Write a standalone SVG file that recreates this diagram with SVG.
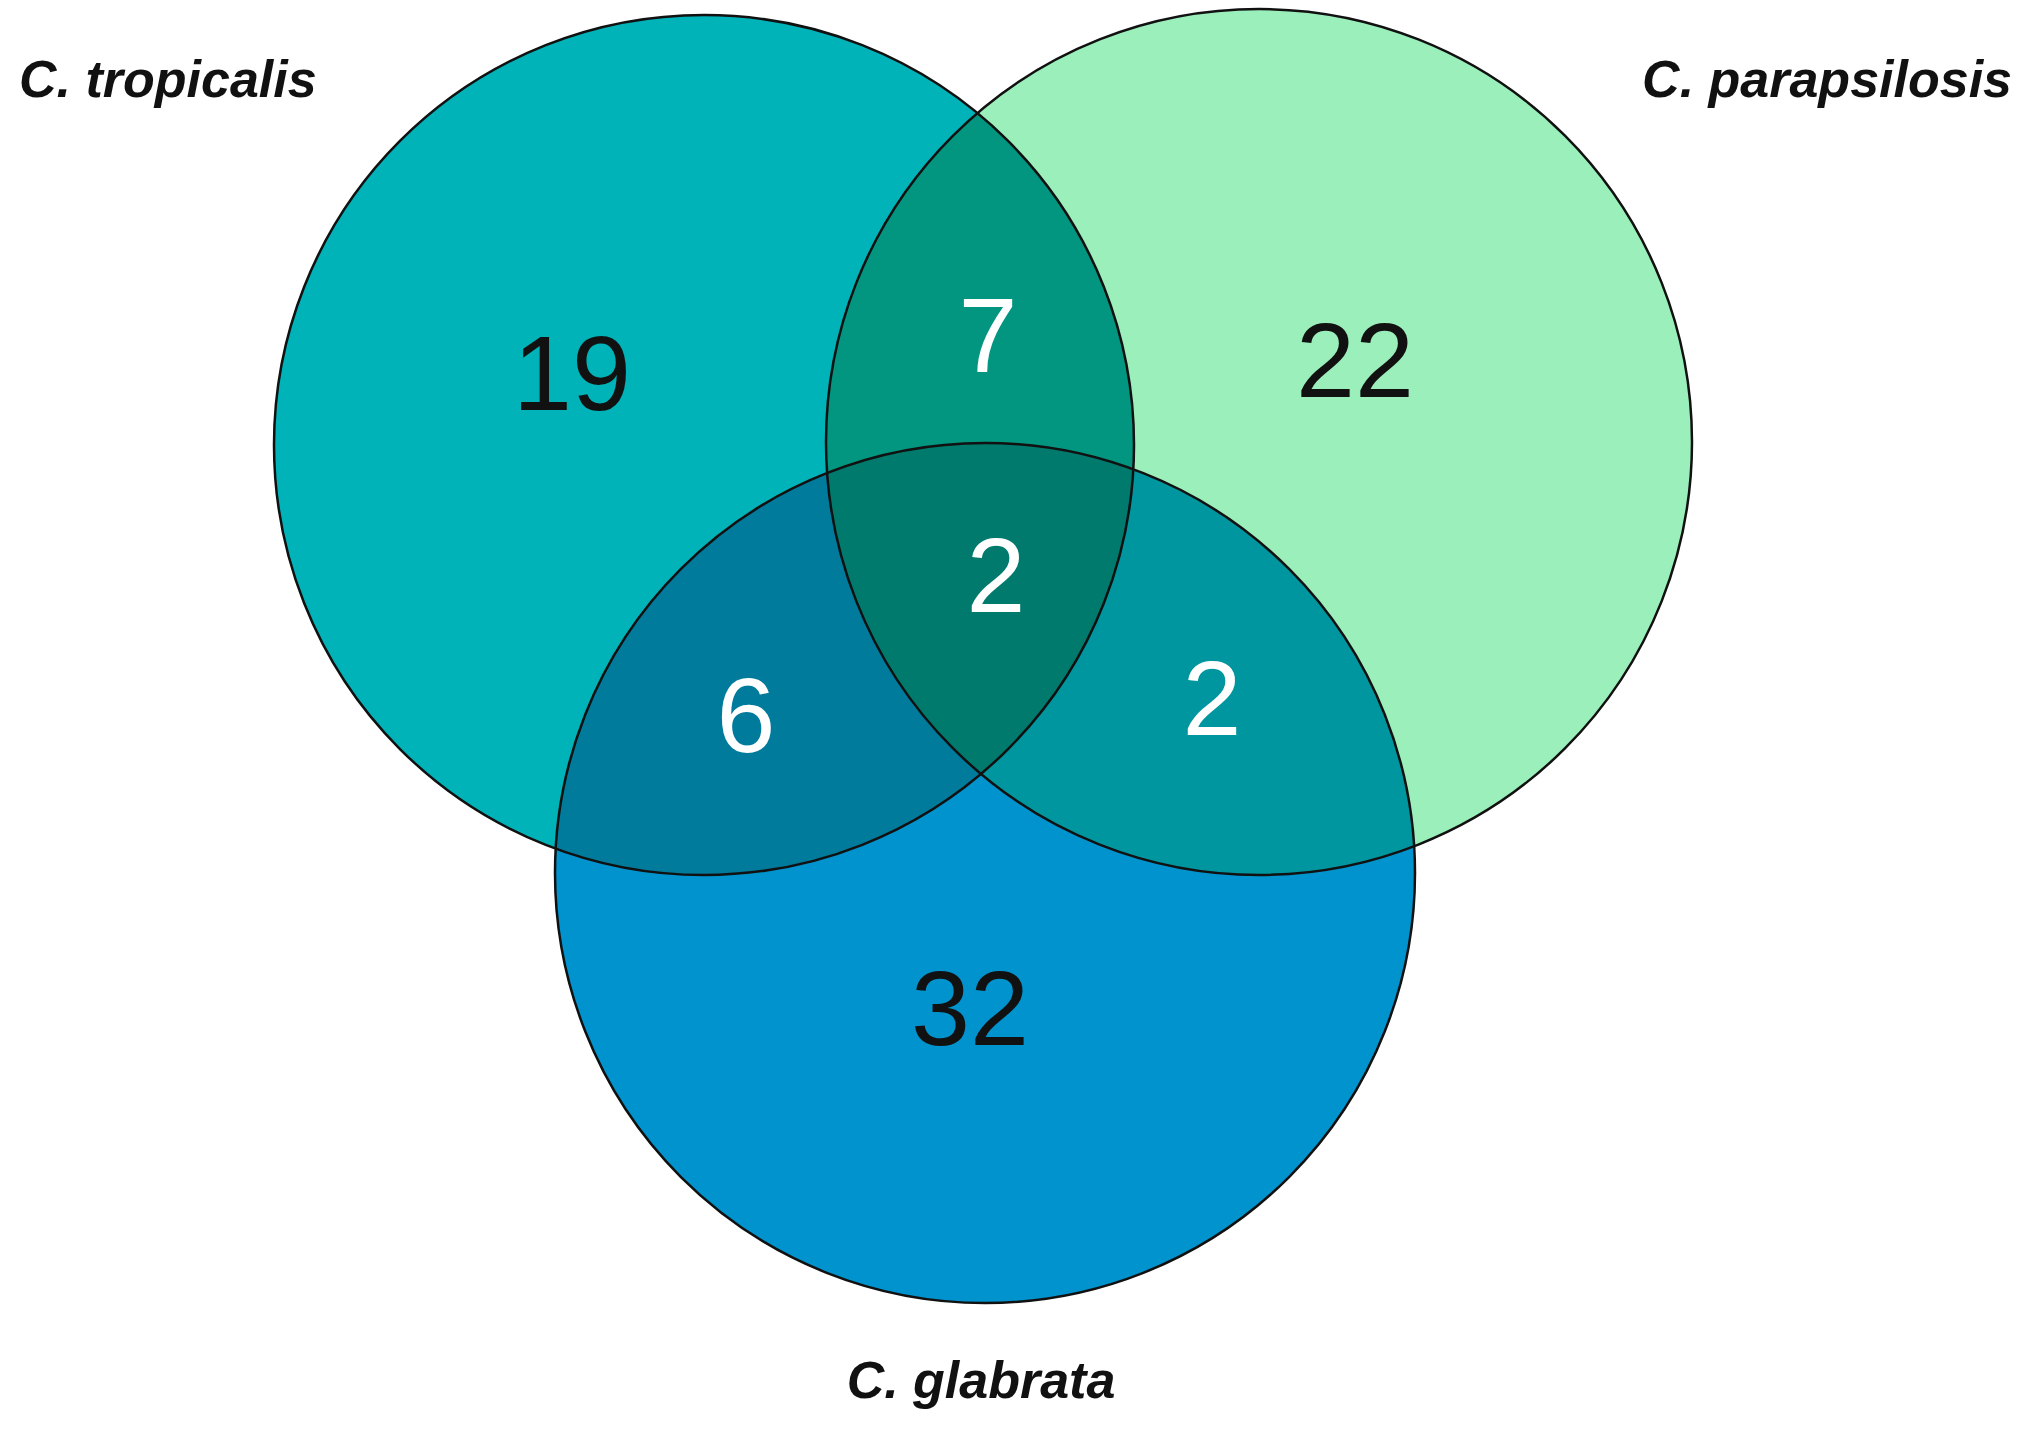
<svg xmlns="http://www.w3.org/2000/svg" width="2033" height="1441" viewBox="0 0 2033 1441">
<style>
.lbl{font-family:"Liberation Sans",Arial,sans-serif;font-weight:bold;font-style:italic;font-size:52px;fill:#111}
.num{font-family:"Liberation Sans",Arial,sans-serif;font-size:106px;text-anchor:middle}
.dk{fill:#111}.wt{fill:#fff}
.edge{fill:none;stroke:#111;stroke-width:2.5}
</style>
<defs>
<clipPath id="cT"><circle cx="704" cy="445" r="430"/></clipPath>
<clipPath id="cP"><circle cx="1259" cy="442" r="433"/></clipPath>
<clipPath id="cG"><circle cx="985" cy="873" r="430"/></clipPath>
</defs>
<rect width="2033" height="1441" fill="#fff"/>
<g id="tropicalis"><circle cx="704" cy="445" r="430" fill="#00B3B8"/></g>
<g id="parapsilosis"><circle cx="1259" cy="442" r="433" fill="#9BEFBB"/></g>
<g id="glabrata"><circle cx="985" cy="873" r="430" fill="#0093CD"/></g>
<g id="overlaps">
<g clip-path="url(#cT)"><circle cx="1259" cy="442" r="433" fill="#02957F"/><circle cx="985" cy="873" r="430" fill="#017B9C"/></g>
<g clip-path="url(#cP)"><circle cx="985" cy="873" r="430" fill="#00969F"/></g>
<g clip-path="url(#cT)"><g clip-path="url(#cP)"><circle cx="985" cy="873" r="430" fill="#007A6D"/></g></g>
</g>
<g id="outlines">
<circle class="edge" cx="704" cy="445" r="430"/>
<circle class="edge" cx="1259" cy="442" r="433"/>
<circle class="edge" cx="985" cy="873" r="430"/>
</g>
<g id="labels">
<text class="lbl" x="19" y="97">C. tropicalis</text>
<text class="lbl" x="2012" y="97" text-anchor="end">C. parapsilosis</text>
<text class="lbl" x="981" y="1398" text-anchor="middle">C. glabrata</text>
<text class="num dk" x="572" y="410">19</text>
<text class="num wt" x="988" y="372">7</text>
<text class="num dk" x="1355" y="397">22</text>
<text class="num wt" x="996" y="612">2</text>
<text class="num wt" x="746" y="752">6</text>
<text class="num wt" x="1212" y="735">2</text>
<text class="num dk" x="970" y="1045">32</text>
</g>
</svg>
